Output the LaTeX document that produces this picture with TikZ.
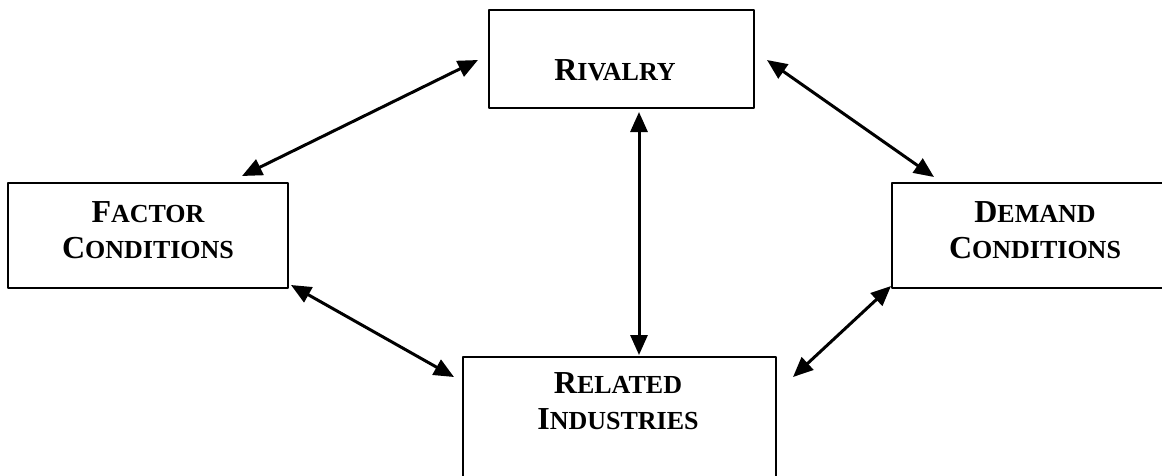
\documentclass[tikz,border=0pt]{standalone}
\usepackage{fontspec}
\setmainfont{Liberation Serif}
\usetikzlibrary{arrows.meta}
% big initial letter, smaller capitals after it
\newcommand{\capsword}[2]{{\fontsize{32pt}{36pt}\selectfont #1}{\fontsize{26pt}{36pt}\selectfont #2}}

\begin{document}
\begin{tikzpicture}[x=1pt,y=-1pt, line join=round,
	box/.style={draw, line width=2pt, inner sep=0pt},
	lbl/.style={font=\fontsize{32pt}{36pt}\selectfont\bfseries, align=center, inner sep=0pt},
	link/.style={{Triangle[length=20pt,width=17pt]}-{Triangle[length=20pt,width=17pt]}, line width=3pt}]
	\def\xmax{1162} \def\ymax{475}
	\clip (0,0) rectangle (\xmax,\ymax);
	% boxes (demand and related run past the edge)
	\node[box, minimum width=265pt, minimum height=98pt] (rivalry) at (621.5,59) {};
	\node[box, minimum width=280pt, minimum height=105pt] (factor) at (148,235.5) {};
	\node[box, minimum width=288pt, minimum height=105pt] (demand) at (1036,235.5) {};
	\node[box, minimum width=313pt, minimum height=143pt] (related) at (619.5,428.5) {};
	% texts
	\node[lbl] (rivalry-t) at (615,70) {\capsword{R}{IVALRY}};
	\node[lbl] (factor-t) at (148,230) {\capsword{F}{ACTOR}\\\capsword{C}{ONDITIONS}};
	\node[lbl] (demand-t) at (1035,230) {\capsword{D}{EMAND}\\\capsword{C}{ONDITIONS}};
	\node[lbl] (related-t) at (618,401.5) {\capsword{R}{ELATED}\\\capsword{I}{NDUSTRIES}};
	% links
	\draw[link] ([xshift=-47pt,yshift=6pt]factor.north east) -- ([xshift=-10pt,yshift=-1pt]rivalry.west);
	\draw[link] ([xshift=12pt,yshift=-1pt]rivalry.east) -- ([xshift=43pt,yshift=5pt]demand.north west);
	\draw[link] ([xshift=17.5pt,yshift=-3pt]rivalry.south) -- ([xshift=19.5pt,yshift=1pt]related.north);
	\draw[link] ([xshift=2pt,yshift=4pt]factor.south east) -- ([xshift=-8pt,yshift=-21pt]related.north west);
	\draw[link] ([yshift=3pt]demand.south west) -- ([xshift=16pt,yshift=-21pt]related.north east);
\end{tikzpicture}
\end{document}
